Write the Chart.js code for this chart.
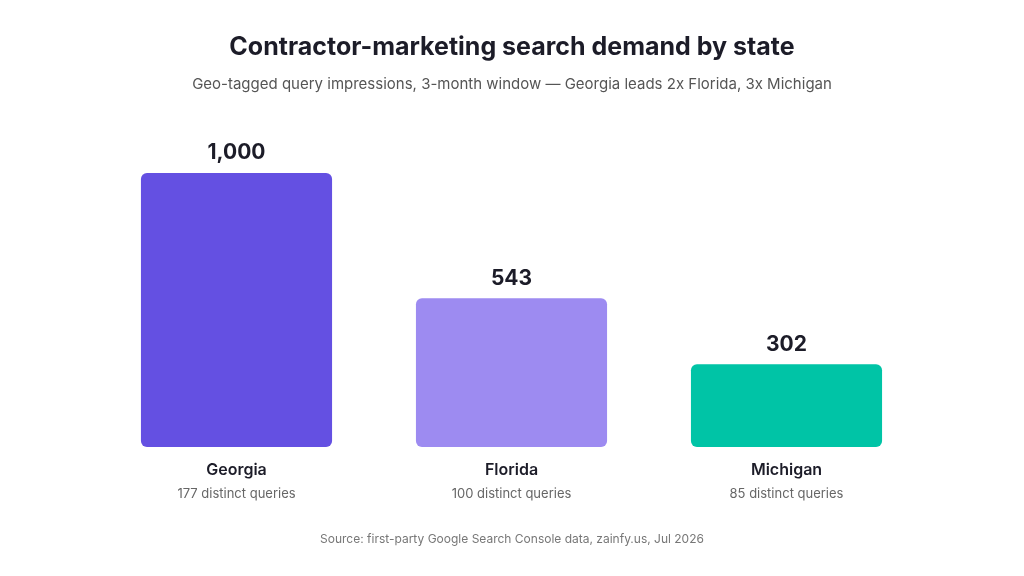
<!DOCTYPE html>
<html><head><meta charset="utf-8">
<script src="https://cdn.jsdelivr.net/npm/chart.js@4"></script>
<style>html,body{margin:0;padding:0;background:#fff;}#w{width:1024px;height:576px;}</style>
</head><body><div id="w"><canvas id="c"></canvas></div>
<script>
const categories = ["Georgia", "Florida", "Michigan"];
const values = [1000, 543, 302];
const subLabels = ["177 distinct queries", "100 distinct queries", "85 distinct queries"];
const valueLabels = ["1,000", "543", "302"];
const colors = ["#6450E2", "#9D8BF1", "#00C4A6"];
const titleText = "Contractor-marketing search demand by state";
const subtitleText = "Geo-tagged query impressions, 3-month window \u2014 Georgia leads 2x Florida, 3x Michigan";
const sourceText = "Source: first-party Google Search Console data, zainfy.us, Jul 2026";
const F = "Inter, 'Noto Sans', sans-serif";

const textPlugin = {
  id: 'texts',
  afterDatasetsDraw(chart) {
    const ctx = chart.ctx;
    ctx.save();
    ctx.textAlign = 'center';
    ctx.textBaseline = 'middle';
    ctx.fillStyle = '#1c1c28';
    ctx.font = "bold 25px " + F;
    ctx.fillText(titleText, 512, 47);
    ctx.fillStyle = '#555';
    ctx.font = "15px " + F;
    ctx.fillText(subtitleText, 512, 84);
    ctx.fillStyle = '#777';
    ctx.font = "12px " + F;
    ctx.fillText(sourceText, 512, 539);
    const meta = chart.getDatasetMeta(0);
    meta.data.forEach((bar, i) => {
      ctx.fillStyle = '#1c1c28';
      ctx.font = "bold 21px " + F;
      ctx.fillText(valueLabels[i], bar.x, bar.y - 20);
      ctx.font = "600 16px " + F;
      ctx.fillText(categories[i], bar.x, 470);
      ctx.fillStyle = '#666';
      ctx.font = "13px " + F;
      ctx.fillText(subLabels[i], bar.x, 494);
    });
    ctx.restore();
  }
};

new Chart(document.getElementById('c'), {
  type: 'bar',
  data: { labels: categories, datasets: [{ data: values, backgroundColor: colors, borderRadius: 6, borderSkipped: false, categoryPercentage: 1, barPercentage: 0.695 }] },
  options: {
    responsive: true, maintainAspectRatio: false, animation: false,
    layout: { padding: { top: 173, bottom: 129, left: 99, right: 100 } },
    plugins: { legend: { display: false }, tooltip: { enabled: false } },
    scales: {
      x: { display: false },
      y: { display: false, min: 0, max: 1000 }
    }
  },
  plugins: [textPlugin]
});
</script></body></html>
